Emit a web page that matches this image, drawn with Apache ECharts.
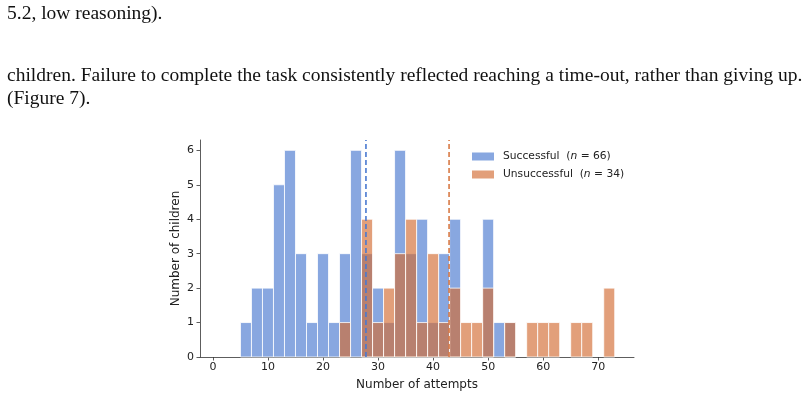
<!DOCTYPE html>
<html>
<head>
<meta charset="utf-8">
<script src="https://cdn.jsdelivr.net/npm/echarts@6/dist/echarts.min.js"></script>
<style>
html,body{margin:0;padding:0;background:#fff;}
#c{width:807px;height:398px;}
</style>
</head>
<body>
<div id="c"></div>
<script>
// ---- data ----
var binStarts = [5,7,9,11,13,15,17,19,21,23,25,27,29,31,33,35,37,39,41,43,45,47,49,51,53,55,57,59,61,63,65,67,69,71];
var binEnds   = [7,9,11,13,15,17,19,21,23,25,27,29,31,33,35,37,39,41,43,45,47,49,51,53,55,57,59,61,63,65,67,69,71,73];
var successful   = [1,2,2,5,6,3,1,3,1,3,6,3,2,1,6,3,4,1,3,4,0,0,4,1,1,0,0,0,0,0,0,0,0,0];
var unsuccessful = [0,0,0,0,0,0,0,0,0,1,0,4,1,2,3,4,1,3,1,2,1,1,2,0,1,0,1,1,1,0,1,1,0,2];
var seriesNames = ['Successful', 'Unsuccessful'];
var seriesN = [66, 34];
var means = [27.8, 42.9];
var xTicks = [0,10,20,30,40,50,60,70];
var yTicks = [0,1,2,3,4,5,6];

var fillColors = ['rgba(72,120,208,0.65)', 'rgba(210,107,50,0.65)'];
var lineColors = ['#4878d0', '#d87a45'];
var FONT = 'DejaVu Sans';

function rows(counts){
  return counts.map(function(v,i){ return [binStarts[i], binEnds[i], v]; });
}
function makeRender(fill){
  return function(params, api){
    var v = api.value(2);
    if (!v) return null;
    var p0 = api.coord([api.value(0), v]);
    var p1 = api.coord([api.value(1), 0]);
    return {type:'rect', shape:{x:p0[0], y:p0[1], width:p1[0]-p0[0], height:p1[1]-p0[1]},
      style:{fill:fill, stroke:'#ffffff', lineWidth:0.8}};
  };
}

var chart = echarts.init(document.getElementById('c'), null, {renderer:'canvas'});
var yMax = 6.3;
var option = {
  animation:false,
  backgroundColor:'#fff',
  grid:{left:200, right:173, top:140, bottom:41, containLabel:false},
  xAxis:{
    type:'value', min:-2.35, max:76.5,
    name:'Number of attempts', nameLocation:'middle', nameGap:22,
    nameTextStyle:{fontFamily:FONT, fontSize:12, color:'#222'},
    axisLine:{show:true, onZero:false, lineStyle:{color:'#333', width:0.8}},
    axisTick:{show:true, length:3.5, lineStyle:{color:'#333', width:0.8}, customValues:xTicks},
    axisLabel:{fontFamily:FONT, fontSize:11, color:'#222', margin:5, customValues:xTicks},
    splitLine:{show:false}
  },
  yAxis:{
    type:'value', min:0, max:yMax,
    name:'Number of children', nameLocation:'middle', nameGap:18, nameRotate:90, nameMoveOverlap:false,
    nameTextStyle:{fontFamily:FONT, fontSize:12, color:'#222'},
    axisLine:{show:true, onZero:false, lineStyle:{color:'#333', width:0.8}},
    axisTick:{show:true, length:3.5, lineStyle:{color:'#333', width:0.8}, customValues:yTicks},
    axisLabel:{fontFamily:FONT, fontSize:11, color:'#222', margin:6, customValues:yTicks},
    splitLine:{show:false}
  },
  legend:{
    left:472, top:151, padding:0, orient:'vertical', itemWidth:22, itemHeight:8, itemGap:7,
    icon:'rect',
    data:[
      {name:seriesNames[0], itemStyle:{color:fillColors[0]}},
      {name:seriesNames[1], itemStyle:{color:fillColors[1]}}
    ],
    formatter:function(name){
      var i = seriesNames.indexOf(name);
      return '{a|' + name + '  (}{i|n}{a| = ' + seriesN[i] + ')}';
    },
    textStyle:{fontFamily:FONT, fontSize:10.7, color:'#222', padding:[0,0,0,4],
      rich:{a:{fontFamily:FONT, fontSize:10.7, color:'#222'}, i:{fontFamily:FONT, fontSize:10.7, fontStyle:'italic', color:'#222'}}}
  },
  series:[
    {type:'custom', name:seriesNames[0], renderItem:makeRender(fillColors[0]), data:rows(successful),
     encode:{x:[0,1], y:2}, itemStyle:{color:fillColors[0]}, z:2},
    {type:'custom', name:seriesNames[1], renderItem:makeRender(fillColors[1]), data:rows(unsuccessful),
     encode:{x:[0,1], y:2}, itemStyle:{color:fillColors[1]}, z:3},
    {type:'line', name:'mean0', data:[[means[0],0],[means[0],yMax]], symbol:'none', silent:true,
     lineStyle:{color:lineColors[0], width:1.6, type:[5,3]}, z:4},
    {type:'line', name:'mean1', data:[[means[1],0],[means[1],yMax]], symbol:'none', silent:true,
     lineStyle:{color:lineColors[1], width:1.6, type:[5,3]}, z:4}
  ],
  graphic:[
    {type:'text', left:7, top:4, style:{text:'5.2, low reasoning).', font:'19.5px "Liberation Serif"', fill:'#111'}},
    {type:'text', left:7, top:66, style:{text:'children. Failure to complete the task consistently reflected reaching a time-out, rather than giving up.', font:'19.5px "Liberation Serif"', fill:'#111'}},
    {type:'text', left:7, top:89, style:{text:'(Figure 7).', font:'19.5px "Liberation Serif"', fill:'#111'}}
  ]
};
chart.setOption(option);
</script>
</body>
</html>
